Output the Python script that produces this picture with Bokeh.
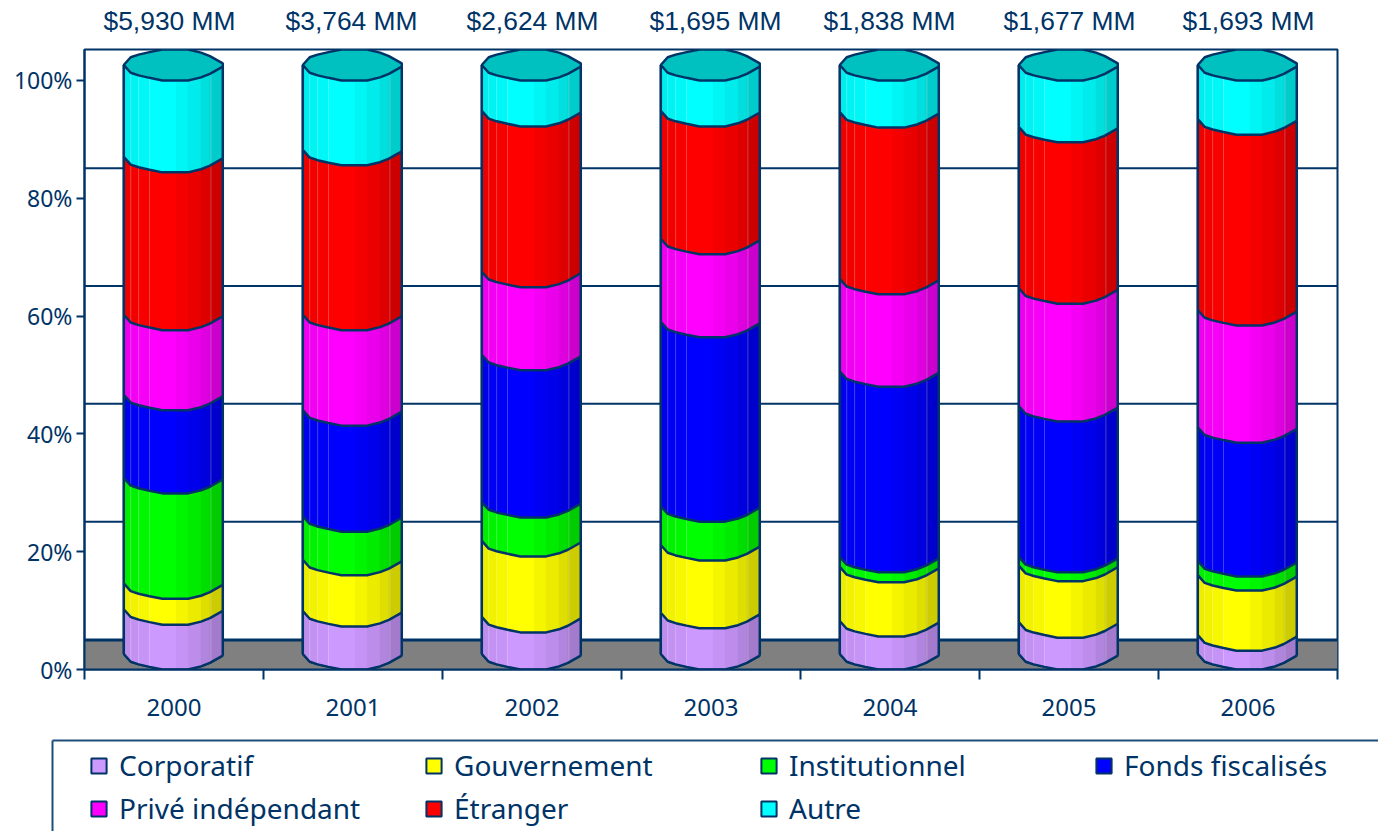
from bokeh.plotting import figure
from bokeh.embed import file_html
from bokeh.resources import INLINE
from bokeh.layouts import column
from bokeh.models import (ColumnDataSource, Range1d, FixedTicker, Legend, LegendItem, LinearAxis)

years = ["2000", "2001", "2002", "2003", "2004", "2005", "2006"]
totals = ["$5,930 MM", "$3,764 MM", "$2,624 MM", "$1,695 MM", "$1,838 MM", "$1,677 MM", "$1,693 MM"]
series_names = ["Corporatif", "Gouvernement", "Institutionnel", "Fonds fiscalisés",
                "Privé indépendant", "Étranger", "Autre"]
corporatif = [7.6, 7.3, 6.3, 7.0, 5.6, 5.4, 3.2]
gouvernement = [4.4, 8.7, 12.9, 11.5, 9.2, 9.6, 10.2]
institutionnel = [17.9, 7.4, 6.6, 6.6, 1.7, 1.5, 2.4]
fonds = [14.1, 18.0, 25.0, 31.3, 31.5, 25.6, 22.7]
prive = [13.6, 16.2, 14.1, 14.1, 15.7, 20.0, 19.9]
etranger = [26.8, 28.0, 27.3, 21.7, 28.3, 27.4, 32.4]
autre = [15.6, 14.4, 7.8, 7.8, 8.0, 10.5, 9.2]
series = [corporatif, gouvernement, institutionnel, fonds, prive, etranger, autre]
y_ticks = [0, 20, 40, 60, 80, 100]

# styling
NAVY = "#003366"
colors = [(204, 153, 255), (255, 255, 0), (0, 255, 0), (0, 0, 255), (255, 0, 255), (255, 0, 0), (0, 255, 255)]
CAP = "#00C0C0"
DEPTH = 5.0
GRID_DEPTH = 5.1
RISE = 2.63
YMAX = 105.26
HALF = 0.2765
BAR_SHIFT = -0.004
edges = [0, .07, .15, .26, .39, .53, .65, .78, .87, 1]
rise = [1, .5, .33, .17, 0, 0, 0, .2, .43, .9]
shade = [.93, .95, .97, 1, 1, .96, .92, .87, .8]
glints = [.07, .15, .26, .88]
label_x = [.475, 1.492, 2.503, 3.525, 4.497, 5.503, 6.503]


def hexc(c, m=1.0):
    return "#%02X%02X%02X" % tuple(int(round(v * m)) for v in c)


def fx(i, f):
    return i + .5 + BAR_SHIFT - HALF + 2 * HALF * f


p = figure(width=1378, height=728, output_backend="svg", toolbar_location=None,
           x_range=Range1d(0, 7), y_range=Range1d(0, YMAX),
           min_border_left=84, min_border_right=41, min_border_top=49, min_border_bottom=59,
           x_axis_location=None, y_axis_location=None)
p.frame_align = False
p.grid.visible = False
p.background_fill_color = "white"
p.outline_line_color = NAVY
p.outline_line_width = 2

# floor and back wall
p.quad(left=[0], right=[7], bottom=[0], top=[DEPTH], fill_color="#808080", line_color=None)
p.segment(x0=[0], x1=[7], y0=[DEPTH], y1=[DEPTH], line_color=NAVY, line_width=3)
p.segment(x0=[0] * 4, x1=[7] * 4, y0=[t + GRID_DEPTH for t in y_ticks[1:5]], y1=[t + GRID_DEPTH for t in y_ticks[1:5]],
          line_color=NAVY, line_width=2)

outline_x, outline_y, glint_x, glint_y = [], [], [], []
strip_x, strip_y, strip_c = [], [], []
base = [0.0] * len(years)
for s, vals in enumerate(series):
    xs, ys = [], []
    for i, v in enumerate(vals):
        lo, hi = base[i], base[i] + v
        top = 100.0 if s == len(series) - 1 else hi
        low_y = [lo + r * RISE for r in rise]
        up_y = [top + r * RISE for r in rise]
        ex = [fx(i, f) for f in edges]
        xs.append(ex + ex[::-1])
        ys.append(low_y + up_y[::-1])
        for k in range(len(shade)):
            strip_x.append([ex[k], ex[k + 1], ex[k + 1], ex[k]])
            strip_y.append([low_y[k], low_y[k + 1], up_y[k + 1], up_y[k]])
            strip_c.append(hexc(colors[s], shade[k]))
        outline_x.append(ex)
        outline_y.append(low_y)
        outline_x.append([ex[0], ex[0]])
        outline_y.append([low_y[0], up_y[0]])
        outline_x.append([ex[-1], ex[-1]])
        outline_y.append([low_y[-1], up_y[-1]])
        for g in glints:
            gx = fx(i, g)
            j = max(n for n, e in enumerate(edges) if e <= g)
            j = min(j, len(rise) - 2)
            w = (g - edges[j]) / (edges[j + 1] - edges[j])
            r = rise[j] * (1 - w) + rise[j + 1] * w
            glint_x.append([gx, gx])
            glint_y.append([lo + r * RISE, top + r * RISE])
        base[i] = hi
    src = ColumnDataSource(dict(xs=xs, ys=ys))
    p.patches("xs", "ys", source=src, fill_color=hexc(colors[s]), line_color=NAVY, line_width=2)

p.patches(strip_x, strip_y, fill_color=strip_c, line_color=strip_c, line_width=0.5)
p.multi_line(glint_x, glint_y, line_color="white", line_alpha=0.25, line_width=1)
p.multi_line(outline_x, outline_y, line_color=NAVY, line_width=2.5)

# top caps
cap_x, cap_y = [], []
for i in range(len(years)):
    ex = [fx(i, f) for f in edges]
    cap_x.append(ex + ex[::-1])
    cap_y.append([100 + r * RISE for r in rise] + [100 + (2 - r) * RISE for r in rise[::-1]])
p.patches(cap_x, cap_y, fill_color=CAP, line_color=NAVY, line_width=2.5)

# axes
ya = LinearAxis(ticker=FixedTicker(ticks=y_ticks), major_label_overrides={t: f"{t}%" for t in y_ticks},
                axis_line_color=NAVY, axis_line_width=2, major_tick_line_color=NAVY, major_tick_line_width=2,
                major_tick_in=0, major_tick_out=8, minor_tick_line_color=None, major_label_standoff=4,
                major_label_text_color=NAVY, major_label_text_font="Noto Sans", major_label_text_font_size="23px")
p.add_layout(ya, "left")
xa = LinearAxis(ticker=FixedTicker(ticks=[i + .5 for i in range(len(years))],
                                   minor_ticks=list(range(len(years) + 1))),
                major_label_overrides={i + .5: y for i, y in enumerate(years)},
                axis_line_color=NAVY, axis_line_width=2, major_tick_line_color=None,
                major_tick_in=0, major_tick_out=0, minor_tick_in=0, minor_tick_out=10,
                minor_tick_line_color=NAVY, minor_tick_line_width=2, major_label_standoff=19,
                major_label_text_color=NAVY, major_label_text_font="Noto Sans", major_label_text_font_size="24px")
p.add_layout(xa, "below")
ta = LinearAxis(ticker=FixedTicker(ticks=label_x), major_label_overrides=dict(zip(label_x, totals)),
                axis_line_color=None, major_tick_line_color=None, minor_tick_line_color=None,
                major_tick_in=0, major_tick_out=0, major_label_standoff=14,
                major_label_text_color=NAVY, major_label_text_font="Liberation Sans",
                major_label_text_font_size="26.4px")
p.add_layout(ta, "above")

# legend panel
LEG_H = 103
q = figure(width=1378, height=LEG_H, output_backend="svg", toolbar_location=None,
           x_range=Range1d(0, 1378), y_range=Range1d(LEG_H, 0),
           min_border_left=0, min_border_right=0, min_border_top=0, min_border_bottom=0,
           x_axis_location=None, y_axis_location=None)
q.frame_align = False
q.grid.visible = False
q.outline_line_color = None
q.segment(x0=[52, 52], x1=[52, 1378], y0=[12, 12], y1=[LEG_H, 12], line_color="#1F4E79", line_width=2)
items = []
for s, name in enumerate(series_names):
    rr = q.patches([[-50, -40, -40]], [[-50, -50, -40]], fill_color=hexc(colors[s]), line_color=NAVY, line_width=2)
    items.append(LegendItem(label=name, renderers=[rr]))
legend = Legend(items=items, ncols=4, location=(89, 4), orientation="horizontal",
                border_line_color=None, background_fill_alpha=0, padding=0, margin=0,
                glyph_width=19, glyph_height=19, label_standoff=11, label_width=300, label_height=24,
                spacing=5, label_text_color=NAVY, label_text_font="Noto Sans", label_text_font_size="28px")
q.add_layout(legend, "center")

layout = column(p, q, spacing=0)
open("out.html", "w").write(file_html(layout, INLINE))
